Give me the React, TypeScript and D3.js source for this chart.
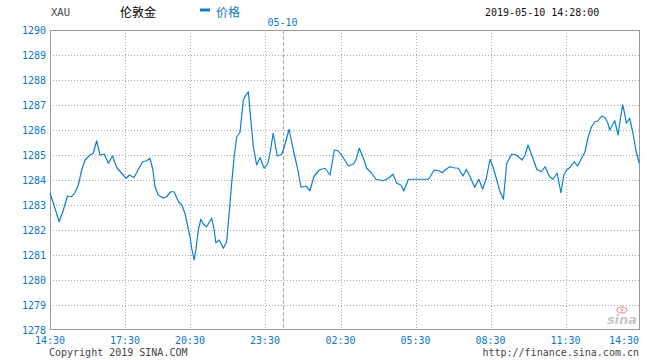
import React from 'react';
import * as d3 from 'd3';

// minutes elapsed since 05-09 14:30
const minutes = [
  0, 12, 22, 32, 42, 52, 60, 68, 76, 84, 96, 104, 112, 120, 130, 140, 150, 160, 172,
  183, 192, 205, 222, 229, 240, 249, 257, 263, 272, 286, 295, 307, 316, 328, 337, 346, 354,
  360, 364, 370, 374, 380, 386, 392, 400, 412, 418, 422, 430, 440, 448, 454, 460, 466, 472,
  480, 488, 494, 500, 506, 512, 520, 528, 538, 545, 549, 554, 561, 569, 576, 587, 598, 608,
  618, 631, 641, 651, 665, 680, 693, 704, 714, 725, 739, 751, 757, 765, 775, 783, 795, 805,
  823, 835, 846, 855, 865, 872, 883, 931, 935, 945, 956, 964, 971, 982, 991, 1003, 1014,
  1022, 1031, 1042, 1052, 1061, 1070, 1079, 1087, 1095, 1103, 1111, 1119, 1131, 1142, 1156,
  1163, 1170, 1179, 1191, 1202, 1211, 1222, 1230, 1240, 1249, 1256, 1263, 1271, 1281, 1289,
  1299, 1307, 1315, 1323, 1331, 1339, 1347, 1355, 1362, 1367, 1371, 1379, 1387, 1391, 1398,
  1402, 1407, 1415, 1423, 1430, 1438,
];

const prices = [
  1283.47, 1282.87, 1282.33, 1282.8, 1283.36, 1283.33, 1283.5, 1283.8, 1284.4, 1284.8, 1285.0,
  1285.07, 1285.57, 1285.0, 1285.04, 1284.67, 1284.96, 1284.5, 1284.27,
  1284.07, 1284.2, 1284.1, 1284.56, 1284.73, 1284.77, 1284.87, 1284.43, 1283.73, 1283.4,
  1283.27, 1283.33, 1283.53, 1283.53, 1283.13, 1283.0, 1282.67, 1282.13,
  1281.73, 1281.27, 1280.8, 1281.2, 1282.0, 1282.43, 1282.24, 1282.13, 1282.47, 1282.0,
  1281.49, 1281.6, 1281.27, 1281.53, 1282.67, 1283.87, 1284.93, 1285.73,
  1285.9, 1287.2, 1287.4, 1287.53, 1286.4, 1285.33, 1284.6, 1284.9, 1284.47, 1284.67, 1285.13,
  1285.87, 1284.96, 1285.04, 1285.4, 1286.03, 1285.2, 1284.53,
  1283.71, 1283.76, 1283.57, 1284.13, 1284.4, 1284.47, 1284.2, 1285.2, 1285.17, 1284.93,
  1284.56, 1284.64, 1284.8, 1285.27, 1284.87, 1284.47, 1284.27, 1284.03,
  1283.97, 1284.07, 1284.23, 1283.87, 1283.8, 1283.56, 1284.03, 1284.03, 1284.13, 1284.4,
  1284.37, 1284.29, 1284.4, 1284.53, 1284.49, 1284.47, 1284.16,
  1284.43, 1284.13, 1283.71, 1284.03, 1283.63, 1284.07, 1284.83, 1284.47, 1284.0, 1283.53,
  1283.23, 1284.67, 1285.04, 1285.0, 1284.8,
  1285.0, 1285.4, 1285.0, 1284.43, 1284.33, 1284.53, 1284.13, 1284.03, 1284.27, 1283.49,
  1284.2, 1284.4, 1284.51, 1284.73, 1284.56,
  1284.87, 1285.13, 1285.73, 1286.13, 1286.33, 1286.37, 1286.56, 1286.51, 1286.29, 1286.0,
  1286.13, 1286.37, 1285.8, 1286.27, 1287.0,
  1286.73, 1286.27, 1286.47, 1285.87, 1285.2, 1284.67,
];

const yTicks = [1278, 1279, 1280, 1281, 1282, 1283, 1284, 1285, 1286, 1287, 1288, 1289, 1290];
const xTickMinutes = [0, 180, 360, 540, 720, 900, 1080, 1260, 1440];
const xTickLabels = ['14:30', '17:30', '20:30', '23:30', '02:30', '05:30', '08:30', '11:30', '14:30'];
const dayBreakMinute = 570;
const dayBreakLabel = '05-10';

const symbol = 'XAU';
const nameLabel = '伦敦金';
const seriesLabel = '价格';
const timestamp = '2019-05-10 14:28:00';
const copyright = 'Copyright 2019 SINA.COM';
const siteUrl = 'http://finance.sina.com.cn';

const W = 660;
const H = 360;
const L = 50;
const R = 640;
const T = 30;
const B = 330;
const MONO = '"DejaVu Sans Mono", monospace';
const BLUE = '#0a78cc';
const LINE = '#0b7fd0';

export default function App() {
  // sina chart spaces its time axis by sample slots, so the minute scale is piecewise
  const x = d3
    .scaleLinear()
    .domain([0, 180, 360, 540, 570, 720, 900, 1080, 1260, 1440])
    .range([L, 125, 190, 265, 282.5, 340.5, 415.5, 490.5, 565.5, R]);
  const y = d3.scaleLinear().domain([1278, 1290]).range([B, T]);

  const data = minutes.map((m, i) => ({ m, p: prices[i] }));
  const path = d3
    .line<{ m: number; p: number }>()
    .x((d) => x(d.m))
    .y((d) => y(d.p))(data) as string;

  return (
    <svg
      width={W}
      height={H}
      style={{ position: 'absolute', left: 0, top: 0, background: '#fff' }}
    >
      <rect x={0} y={0} width={W} height={H} fill="#fff" />
      {/* header */}
      <text x={51} y={16} fontFamily={MONO} fontSize={10.5} fill="#444">{symbol}</text>
      <text x={120} y={17} fontFamily='"Noto Sans CJK SC", sans-serif' fontSize={12} fill="#000">{nameLabel}</text>
      <rect x={200} y={8.5} width={10} height={3} fill={LINE} />
      <text x={216} y={17} fontFamily='"Noto Sans CJK SC", sans-serif' fontSize={12} fill={BLUE}>{seriesLabel}</text>
      <text x={485} y={16} fontFamily={MONO} fontSize={10} fill="#111">{timestamp}</text>

      {/* horizontal grid */}
      {yTicks.filter((t) => t > 1278 && t < 1290).map((t) => (
        <line key={`gy${t}`} x1={L} x2={R} y1={Math.round(y(t)) + 0.5} y2={Math.round(y(t)) + 0.5}
          stroke="#aaa" strokeDasharray="1,2" />
      ))}
      {/* vertical grid */}
      {xTickMinutes.filter((m) => m > 0 && m < 1440).map((m) => (
        <line key={`gx${m}`} x1={Math.round(x(m)) + 0.5} x2={Math.round(x(m)) + 0.5} y1={T} y2={B}
          stroke="#aaa" strokeDasharray="1,2" />
      ))}
      <line x1={Math.round(x(dayBreakMinute)) + 0.5} x2={Math.round(x(dayBreakMinute)) + 0.5} y1={T} y2={B}
        stroke="#aaa" strokeDasharray="4,2" />
      <text x={x(dayBreakMinute)} y={26} textAnchor="middle" fontFamily={MONO} fontSize={10} fill={BLUE}>{dayBreakLabel}</text>

      {/* sina watermark */}
      <g opacity={0.4}>
        <ellipse cx={622} cy={310} rx={5} ry={3} fill="none" stroke="#d33" strokeWidth={1.5} />
        <circle cx={622} cy={310} r={1.5} fill="#d33" />
        <text x={622} y={324} textAnchor="middle" fontFamily='"DejaVu Sans", sans-serif' fontStyle="italic" fontWeight="bold" fontSize={13} fill="#777">sina</text>
      </g>

      {/* frame */}
      <rect x={L + 0.5} y={T + 0.5} width={R - L - 1} height={B - T - 1} fill="none" stroke="#999" />

      {/* price line */}
      <path d={path} fill="none" stroke={LINE} strokeWidth={1.2} strokeLinejoin="round" />

      {/* y labels */}
      {yTicks.map((t) => (
        <text key={`yl${t}`} x={46} y={y(t) + 4} textAnchor="end" fontFamily={MONO} fontSize={10} fill={BLUE}>{t}</text>
      ))}
      {/* x labels */}
      {xTickMinutes.map((m, i) => (
        <text key={`xl${i}`} x={i === xTickMinutes.length - 1 ? R - 1 : x(m)} y={344}
          textAnchor={i === xTickMinutes.length - 1 ? 'end' : 'middle'} fontFamily={MONO} fontSize={10} fill={BLUE}>
          {xTickLabels[i]}
        </text>
      ))}

      {/* footer */}
      <text x={49} y={356} fontFamily={MONO} fontSize={10} fill="#444">{copyright}</text>
      <text x={639} y={356} textAnchor="end" fontFamily={MONO} fontSize={10} fill="#444">{siteUrl}</text>
    </svg>
  );
}
